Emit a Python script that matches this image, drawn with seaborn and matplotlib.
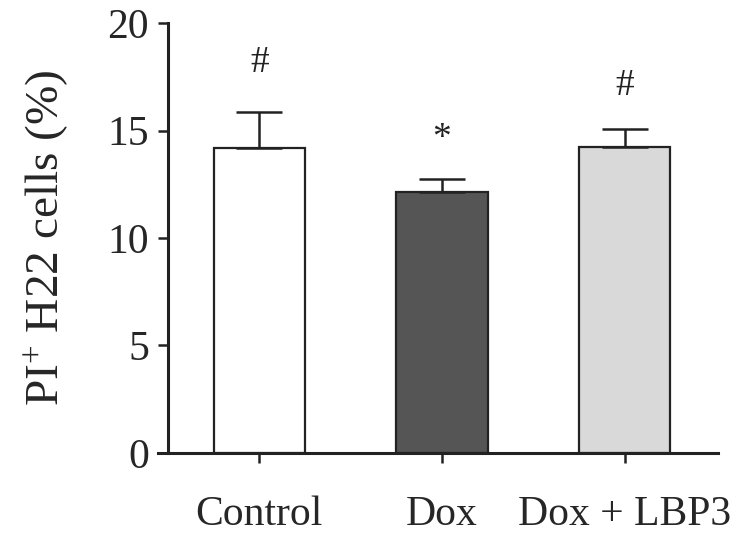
import matplotlib
matplotlib.use("Agg")
import matplotlib.pyplot as plt
import seaborn as sns
import pandas as pd
import numpy as np

# -------------------------------
# Data
# -------------------------------
groups = ["Control", "Dox", "Dox + LBP3"]
means = [14.2, 12.15, 14.25]
upper_err = [1.65, 0.6, 0.82]
marks = ["#", "*", "#"]
mark_y = [18.15, 14.6, 17.1]
bar_colors = ["#ffffff", "#555555", "#d9d9d9"]

df = pd.DataFrame({"group": groups, "value": means})

# -------------------------------
# Style
# -------------------------------
sns.set_style("ticks")
plt.rcParams["font.family"] = ["Liberation Serif", "DejaVu Serif"]
plt.rcParams["mathtext.fontset"] = "custom"
plt.rcParams["mathtext.rm"] = "Liberation Serif"
plt.rcParams["mathtext.it"] = "Liberation Serif:italic"

fig = plt.figure(figsize=(7.54, 5.36), dpi=100)
ax = fig.add_axes([0.2228, 0.1549, 0.7292, 0.8021])

sns.barplot(
    data=df,
    x="group",
    y="value",
    hue="group",
    palette=bar_colors,
    order=groups,
    width=0.5,
    edgecolor="#222222",
    linewidth=1.6,
    legend=False,
    errorbar=None,
    ax=ax,
)

# upper-only error bars
x = np.arange(len(groups))
ax.errorbar(
    x, means,
    yerr=[np.zeros(len(groups)), upper_err],
    fmt="none",
    ecolor="#222222",
    elinewidth=1.8,
    capsize=16.5,
    capthick=1.8,
    zorder=1,
)

for xi, m, yy in zip(x, marks, mark_y):
    ax.text(xi, yy, m, ha="center", va="center", fontsize=27, color="#222222")

ax.set_ylim(0, 20)
ax.set_xlim(-0.5, 2.51)
ax.set_yticks([0, 5, 10, 15, 20])
ax.set_xlabel("")
ax.set_ylabel(r"PI$^{\plus}$ H22 cells (%)", fontsize=34, labelpad=26)

ax.tick_params(axis="both", labelsize=30, width=1.8, length=7.5, color="#222222")
ax.tick_params(axis="x", pad=23)
ax.tick_params(axis="y", pad=6)

for s in ["top", "right"]:
    ax.spines[s].set_visible(False)
for s in ["left", "bottom"]:
    ax.spines[s].set_linewidth(2.2)
    ax.spines[s].set_color("#222222")
ax.spines["bottom"].set_bounds(-0.555, 2.51)

plt.savefig("out.png", dpi=100)
plt.close()
